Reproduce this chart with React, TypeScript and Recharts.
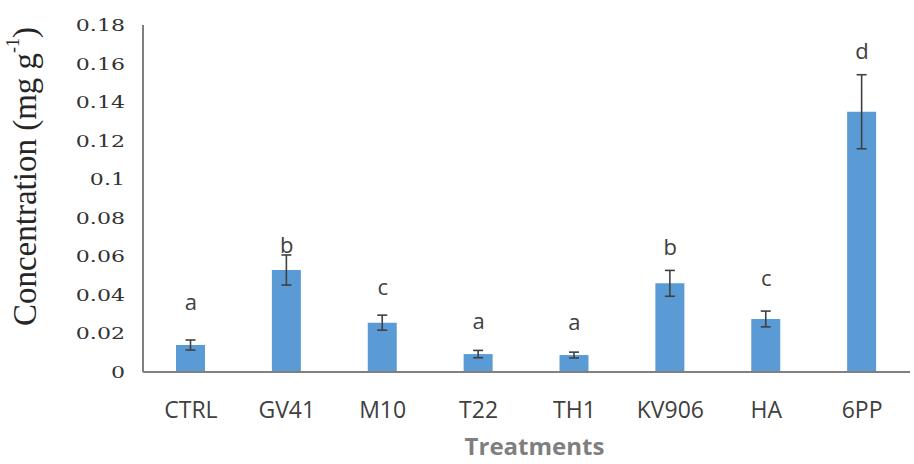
import { ComposedChart, Bar, Line, XAxis, YAxis, ErrorBar, Label } from "recharts";

const treatments = ["CTRL", "GV41", "M10", "T22", "TH1", "KV906", "HA", "6PP"];
const concentration = [0.014, 0.0529, 0.0256, 0.0093, 0.0088, 0.046, 0.0275, 0.135];
const stdError = [0.0026, 0.0078, 0.0039, 0.0019, 0.0015, 0.0067, 0.0041, 0.0192];
const groupLetters = ["a", "b", "c", "a", "a", "b", "c", "d"];
const letterLevel = [0.0368, 0.0665, 0.0446, 0.027, 0.0265, 0.0655, 0.0493, 0.167];
const yTicks = [0, 0.02, 0.04, 0.06, 0.08, 0.1, 0.12, 0.14, 0.16, 0.18];

const data = treatments.map((name, i) => ({
  name,
  value: concentration[i],
  err: stdError[i],
  letter: groupLetters[i],
  letterY: letterLevel[i],
}));

const SANS = "'Open Sans', sans-serif";
const SERIF = "'DejaVu Serif', serif";

function XTick(props: any) {
  const { x, y, payload } = props;
  return (
    <text x={x} y={y} dy={38} textAnchor="middle" fill="#404040" fontSize={23} fontFamily={SANS}>
      {payload.value}
    </text>
  );
}

// tick numbers in the source are wide, so stretch them a bit
function YTick(props: any) {
  const { x, y, payload } = props;
  const label = Number(payload.value.toFixed(2)).toString();
  return (
    <g transform={`translate(${x - 10},${y})`}>
      <text transform="scale(1.3,1)" textAnchor="end" dy={6} fill="#333" fontSize={17} fontFamily={SERIF}>
        {label}
      </text>
    </g>
  );
}

function LetterDot(props: any) {
  const { cx, cy, payload, index } = props;
  return (
    <text key={`letter-${index}`} x={cx} y={cy} textAnchor="middle" dominantBaseline="central" fill="#404040" fontSize={22} fontFamily={SANS}>
      {payload.letter}
    </text>
  );
}

function YTitle(props: any) {
  const { viewBox } = props;
  const cx = viewBox.x + 25;
  const cy = viewBox.y + viewBox.height / 2 - 22;
  return (
    <text transform={`translate(${cx},${cy}) rotate(-90)`} textAnchor="middle" dominantBaseline="central" fill="#262626" fontSize={33} fontFamily="'Liberation Serif', serif">
      Concentration (mg g<tspan fontSize={18} dy={-12}>-1</tspan>
      <tspan dy={12}>)</tspan>
    </text>
  );
}

function XTitle(props: any) {
  const { viewBox } = props;
  const cx = viewBox.x + viewBox.width / 2 + 8;
  const cy = viewBox.y + 83;
  return (
    <text x={cx} y={cy} textAnchor="middle" fill="#7f7f7f" fontSize={24} fontWeight="bold" fontFamily={SANS}>
      Treatments
    </text>
  );
}

export default function App() {
  return (
    <div style={{ width: 914, height: 464, background: "#fff" }}>
      <style>{`body{margin:0}`}</style>
      <ComposedChart width={914} height={464} data={data} margin={{ top: 25, right: 4, bottom: 0, left: 0 }}>
        <XAxis
          dataKey="name"
          height={92}
          axisLine={{ stroke: "#808080", strokeWidth: 2 }}
          tickLine={false}
          tick={<XTick />}
          interval={0}
        >
          <Label content={<XTitle />} />
        </XAxis>
        <YAxis
          width={143}
          domain={[0, 0.18]}
          ticks={yTicks}
          axisLine={{ stroke: "#808080", strokeWidth: 2 }}
          tickLine={false}
          tick={<YTick />}
          interval={0}
        >
          <Label content={<YTitle />} />
        </YAxis>
        <Bar dataKey="value" fill="#5b9bd5" barSize={29} isAnimationActive={false}>
          <ErrorBar dataKey="err" width={5} stroke="#404040" strokeWidth={1.6} />
        </Bar>
        <Line dataKey="letterY" stroke="none" dot={<LetterDot />} activeDot={false} isAnimationActive={false} />
      </ComposedChart>
    </div>
  );
}
